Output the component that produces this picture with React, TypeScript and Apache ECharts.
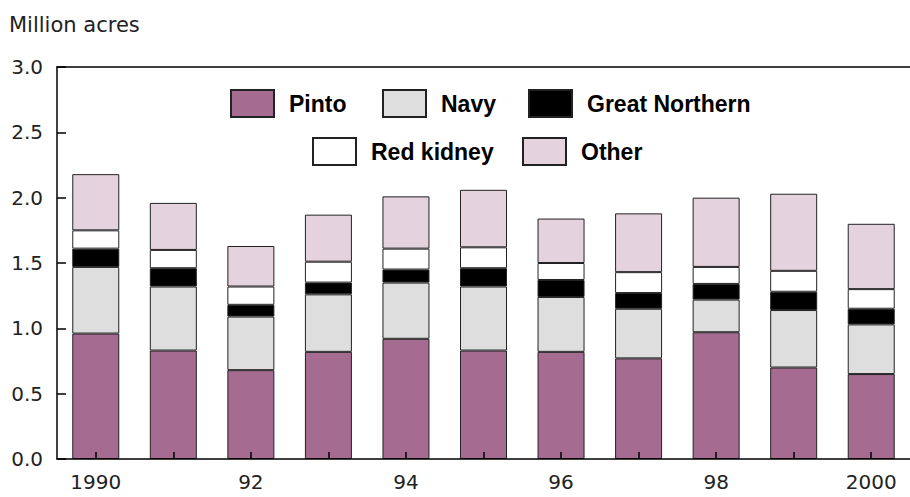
import React, { useEffect, useRef } from "react";
import * as echarts from "echarts";

const years = ["1990", "91", "92", "93", "94", "95", "96", "97", "98", "99", "2000"];
const pinto = [0.96, 0.83, 0.68, 0.82, 0.92, 0.83, 0.82, 0.77, 0.97, 0.70, 0.65];
const navy = [0.51, 0.49, 0.41, 0.44, 0.43, 0.49, 0.42, 0.38, 0.25, 0.44, 0.38];
const greatNorthern = [0.14, 0.14, 0.09, 0.09, 0.10, 0.14, 0.13, 0.12, 0.12, 0.14, 0.12];
const redKidney = [0.14, 0.14, 0.14, 0.16, 0.16, 0.16, 0.13, 0.16, 0.13, 0.16, 0.15];
const other = [0.43, 0.36, 0.31, 0.36, 0.40, 0.44, 0.34, 0.45, 0.53, 0.59, 0.50];

const seriesDefs = [
  { name: "Pinto", data: pinto, color: "#a56b91" },
  { name: "Navy", data: navy, color: "#dedede" },
  { name: "Great Northern", data: greatNorthern, color: "#000000" },
  { name: "Red kidney", data: redKidney, color: "#ffffff" },
  { name: "Other", data: other, color: "#e4d2dc" },
];

const legendPos = [
  { name: "Pinto", left: 230, top: 89 },
  { name: "Navy", left: 382, top: 89 },
  { name: "Great Northern", left: 528, top: 89 },
  { name: "Red kidney", left: 312, top: 137 },
  { name: "Other", left: 522, top: 137 },
];

const axisFont = "DejaVu Sans";

export default function App() {
  const ref = useRef<HTMLDivElement>(null);
  useEffect(() => {
    document.body.style.margin = "0";
    if (!ref.current) return;
    const chart = echarts.init(ref.current, null, { renderer: "svg" });
    chart.setOption({
      animation: false,
      backgroundColor: "#ffffff",
      title: {
        text: "Million acres",
        left: 9,
        top: 14,
        padding: 0,
        textStyle: { fontFamily: axisFont, fontSize: 21, fontWeight: "normal", color: "#222" },
      },
      legend: legendPos.map((l) => ({
        data: [l.name],
        left: l.left,
        top: l.top,
        padding: 0,
        icon: "rect",
        itemWidth: 43,
        itemHeight: 27,
        selectedMode: false,
        textStyle: {
          fontFamily: "Liberation Sans",
          fontWeight: "bold",
          fontSize: 23,
          color: "#000",
          padding: [0, 0, 0, 10],
        },
      })),
      grid: { left: 57, top: 67, width: 858, height: 392 },
      xAxis: [
        {
          type: "category",
          data: years,
          boundaryGap: true,
          z: 5,
          axisLine: { lineStyle: { color: "#000", width: 1.5 } },
          axisTick: { show: true, inside: true, alignWithLabel: true, length: 7, interval: 0, lineStyle: { color: "#000", width: 1.5 } },
          axisLabel: { interval: 1, margin: 13, fontFamily: axisFont, fontSize: 20, color: "#222" },
        },
        {
          type: "category",
          data: years,
          position: "top",
          axisLine: { lineStyle: { color: "#000", width: 1.5 } },
          axisTick: { show: false },
          axisLabel: { show: false },
        },
      ],
      yAxis: {
        type: "value",
        min: 0,
        max: 3,
        interval: 0.5,
        z: 5,
        axisLine: { show: true, lineStyle: { color: "#000", width: 1.5 } },
        axisTick: { show: true, inside: true, length: 9, lineStyle: { color: "#000", width: 1.5 } },
        splitLine: { show: false },
        axisLabel: {
          margin: 14,
          fontFamily: axisFont,
          fontSize: 20,
          color: "#222",
          formatter: (v: number) => v.toFixed(1),
        },
      },
      series: seriesDefs.map((s) => ({
        name: s.name,
        type: "bar",
        stack: "total",
        barWidth: 47,
        xAxisIndex: 0,
        data: s.data,
        itemStyle: { color: s.color, borderColor: "#222", borderWidth: 1 },
      })),
    });
    return () => chart.dispose();
  }, []);
  return <div ref={ref} style={{ width: 910, height: 497 }} />;
}
